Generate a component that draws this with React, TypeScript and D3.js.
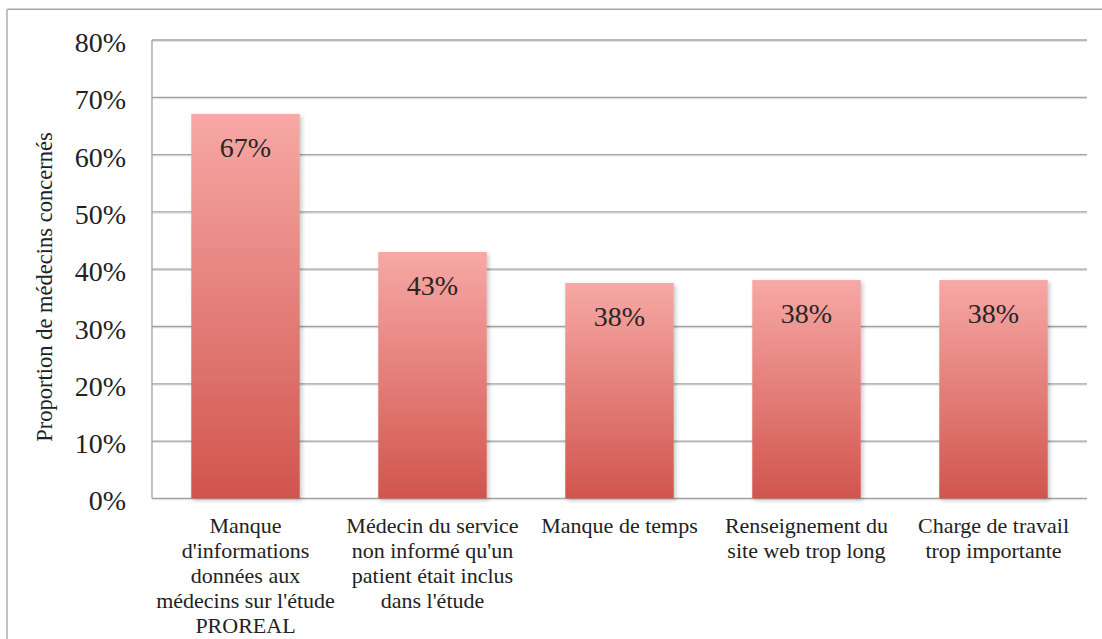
import React from "react";
import * as d3 from "d3";

const categories: string[][] = [
  ["Manque", "d'informations", "données aux", "médecins sur l'étude", "PROREAL"],
  ["Médecin du service", "non informé qu'un", "patient était inclus", "dans l'étude"],
  ["Manque de temps"],
  ["Renseignement du", "site web trop long"],
  ["Charge de travail", "trop importante"],
];
const values: number[] = [0.671, 0.43, 0.376, 0.381, 0.381];
const yTicks: number[] = [0, 0.1, 0.2, 0.3, 0.4, 0.5, 0.6, 0.7, 0.8];
const yTitle = "Proportion de médecins concernés";

const W = 1102;
const H = 639;
const FONT = "'Liberation Serif', 'Times New Roman', serif";

export default function App() {
  const ids = categories.map((_, i) => String(i));
  const x = d3.scaleBand<string>().domain(ids).range([152, 1087]).paddingInner(0.42).paddingOuter(0.21);
  const y = d3.scaleLinear().domain([0, 0.8]).range([498.4, 40]);
  const pct = d3.format(".0%");

  return (
    <svg width={W} height={H} style={{ position: "absolute", left: 0, top: 0, background: "#fff" }}>
      <defs>
        <linearGradient id="barGrad" x1="0" y1="0" x2="0" y2="1">
          <stop offset="0%" stopColor="#f7a8a5" />
          <stop offset="100%" stopColor="#d1554e" />
        </linearGradient>
        <filter id="shadow" x="-20%" y="-20%" width="140%" height="140%">
          <feDropShadow dx="2" dy="2" stdDeviation="2.2" floodColor="#000" floodOpacity="0.22" />
        </filter>
      </defs>

      {/* outer border */}
      <line x1={7} x2={W} y1={9.3} y2={9.3} stroke="#a6a6a6" strokeWidth={1.4} />
      <line x1={7} x2={7} y1={9.3} y2={H} stroke="#a6a6a6" strokeWidth={1.4} />

      {/* gridlines */}
      {yTicks.map((t) => (
        <g key={t}>
          <line x1={152} x2={1087} y1={y(t) + 1.3} y2={y(t) + 1.3} stroke="#dcdcdc" strokeWidth={1} />
          <line x1={152} x2={1087} y1={y(t)} y2={y(t)} stroke="#a2a2a2" strokeWidth={1.3} />
        </g>
      ))}
      {/* y axis line */}
      <line x1={152} x2={152} y1={y(0.8)} y2={y(0)} stroke="#a2a2a2" strokeWidth={1.3} />

      {/* tick labels */}
      {yTicks.map((t) => (
        <text key={t} x={126} y={y(t) + 12} textAnchor="end" fontFamily={FONT} fontSize={28} fill="#222">
          {pct(t)}
        </text>
      ))}

      {/* y title */}
      <text
        transform={`translate(52, 287) rotate(-90)`}
        textAnchor="middle"
        fontFamily={FONT}
        fontSize={22.5}
        fill="#222"
      >
        {yTitle}
      </text>

      {/* bars */}
      {values.map((v, i) => (
        <rect
          key={i}
          x={x(ids[i])}
          y={y(v)}
          width={x.bandwidth()}
          height={y(0) - y(v)}
          fill="url(#barGrad)"
          filter="url(#shadow)"
        />
      ))}

      {/* bar labels */}
      {values.map((v, i) => (
        <text
          key={i}
          x={(x(ids[i]) as number) + x.bandwidth() / 2}
          y={y(v) + 43}
          textAnchor="middle"
          fontFamily={FONT}
          fontSize={28}
          fill="#262626"
        >
          {pct(v)}
        </text>
      ))}

      {/* category labels */}
      {categories.map((lines, i) => (
        <text
          key={i}
          textAnchor="middle"
          fontFamily={FONT}
          fontSize={22}
          fill="#222"
        >
          {lines.map((l, j) => (
            <tspan key={j} x={(x(ids[i]) as number) + x.bandwidth() / 2} y={533 + j * 25}>
              {l}
            </tspan>
          ))}
        </text>
      ))}
    </svg>
  );
}
